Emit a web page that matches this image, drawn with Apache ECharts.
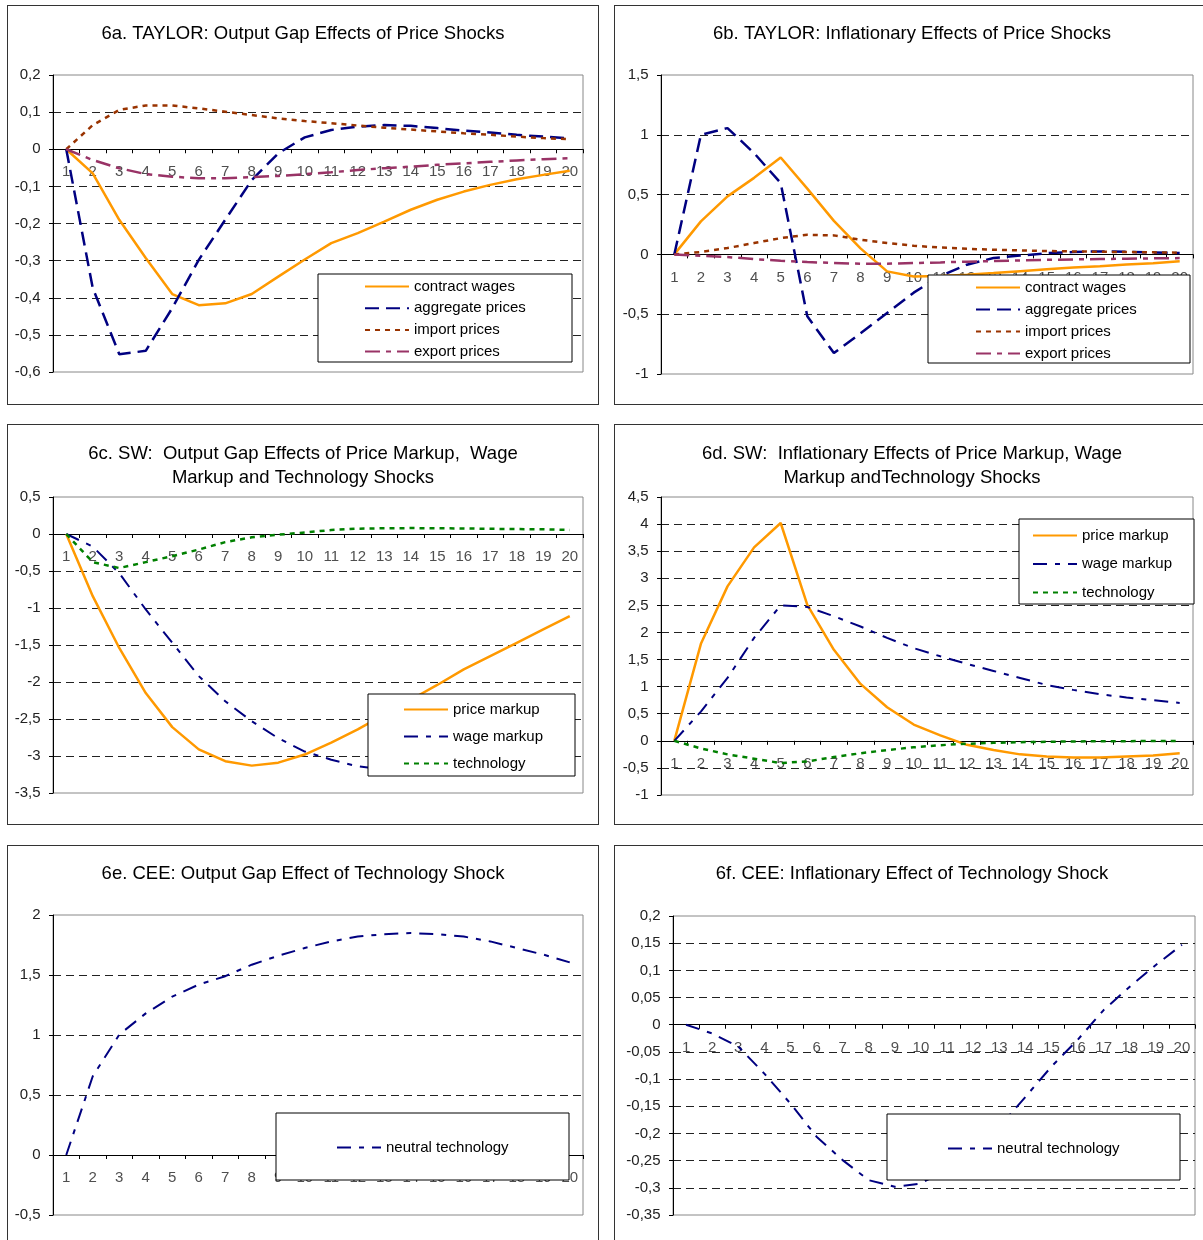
<!DOCTYPE html>
<html>
<head>
<meta charset="utf-8">
<script src="https://cdn.jsdelivr.net/npm/echarts@6/dist/echarts.min.js"></script>
<style>
html,body{margin:0;padding:0;background:#fff;overflow:hidden;width:1203px;height:1240px;}
.panel{position:absolute;border:1px solid #333;box-sizing:border-box;background:#fff;}
</style>
</head>
<body>
<div id="pa" class="panel" style="left:7px;top:5px;width:592px;height:400px;"></div>
<div id="pb" class="panel" style="left:614px;top:5px;width:597px;height:400px;"></div>
<div id="pc" class="panel" style="left:7px;top:424px;width:592px;height:401px;"></div>
<div id="pd" class="panel" style="left:614px;top:424px;width:597px;height:401px;"></div>
<div id="pe" class="panel" style="left:7px;top:845px;width:592px;height:410px;"></div>
<div id="pf" class="panel" style="left:614px;top:845px;width:597px;height:410px;"></div>
<script>
// ---- data ----
const periods = ['1','2','3','4','5','6','7','8','9','10','11','12','13','14','15','16','17','18','19','20'];

const taylorGapWages    = [0,-0.065,-0.19,-0.293,-0.39,-0.42,-0.415,-0.39,-0.343,-0.297,-0.253,-0.226,-0.195,-0.163,-0.136,-0.114,-0.096,-0.081,-0.069,-0.058];
const taylorGapAggregate= [0,-0.374,-0.552,-0.543,-0.428,-0.298,-0.19,-0.083,-0.011,0.032,0.052,0.061,0.065,0.063,0.057,0.05,0.045,0.039,0.034,0.029];
const taylorGapImport   = [0,0.065,0.106,0.118,0.118,0.11,0.101,0.092,0.083,0.076,0.07,0.064,0.058,0.053,0.048,0.043,0.039,0.034,0.03,0.027];
const taylorGapExport   = [0,-0.029,-0.051,-0.067,-0.074,-0.078,-0.078,-0.075,-0.072,-0.067,-0.062,-0.056,-0.051,-0.047,-0.042,-0.038,-0.034,-0.03,-0.027,-0.024];

const taylorInfWages    = [0,0.276,0.485,0.64,0.81,0.55,0.28,0.05,-0.142,-0.184,-0.18,-0.17,-0.156,-0.14,-0.125,-0.11,-0.1,-0.085,-0.075,-0.058];
const taylorInfAggregate= [0,1.0,1.056,0.847,0.596,-0.518,-0.825,-0.66,-0.49,-0.32,-0.18,-0.086,-0.03,-0.01,0.01,0.02,0.025,0.022,0.017,0.011];
const taylorInfImport   = [0,0.02,0.053,0.095,0.136,0.164,0.159,0.123,0.095,0.072,0.058,0.047,0.039,0.033,0.028,0.025,0.022,0.02,0.017,0.014];
const taylorInfExport   = [0,-0.011,-0.022,-0.039,-0.053,-0.064,-0.072,-0.078,-0.078,-0.072,-0.067,-0.061,-0.056,-0.05,-0.045,-0.042,-0.039,-0.036,-0.033,-0.031];

const swGapPrice = [0,-0.84,-1.54,-2.15,-2.61,-2.91,-3.07,-3.13,-3.09,-2.98,-2.82,-2.64,-2.44,-2.24,-2.04,-1.83,-1.65,-1.47,-1.29,-1.11];
const swGapWage  = [0,-0.17,-0.53,-1.02,-1.47,-1.92,-2.26,-2.53,-2.76,-2.94,-3.05,-3.14,-3.18,-3.2,-3.18,-3.13,-3.05,-2.95,-2.83,-2.7];
const swGapTech  = [0,-0.38,-0.46,-0.38,-0.3,-0.21,-0.11,-0.045,-0.01,0.02,0.054,0.072,0.077,0.08,0.077,0.075,0.07,0.067,0.063,0.054];

const swInfPrice = [0,1.79,2.85,3.57,4.02,2.51,1.68,1.05,0.62,0.3,0.1,-0.074,-0.17,-0.25,-0.29,-0.31,-0.31,-0.29,-0.27,-0.23];
const swInfWage  = [0,0.54,1.16,1.9,2.5,2.47,2.3,2.11,1.9,1.71,1.56,1.42,1.29,1.16,1.03,0.94,0.86,0.8,0.75,0.7];
const swInfTech  = [0,-0.14,-0.25,-0.33,-0.41,-0.38,-0.3,-0.23,-0.17,-0.12,-0.08,-0.055,-0.037,-0.025,-0.018,-0.012,-0.006,-0.006,-0.005,-0.005];

const ceeGapTech = [0,0.656,1.003,1.18,1.32,1.42,1.49,1.586,1.66,1.725,1.78,1.82,1.84,1.85,1.84,1.82,1.78,1.725,1.67,1.605];
const ceeInfTech = [0,-0.016,-0.04,-0.09,-0.145,-0.206,-0.249,-0.286,-0.298,-0.292,-0.265,-0.23,-0.188,-0.133,-0.077,-0.028,0.027,0.07,0.11,0.147];

// ---- styles ----
const FONT = '"Liberation Sans", Arial, sans-serif';
const ST = {
  'contract wages':   {color:'#FF9900', width:2.5, type:'solid'},
  'price markup':     {color:'#FF9900', width:2.5, type:'solid'},
  'aggregate prices': {color:'#000080', width:2.5, type:[14,7]},
  'import prices':    {color:'#993300', width:2.5, type:[5,5]},
  'export prices':    {color:'#993366', width:2.5, type:[15,6,5,6]},
  'wage markup':      {color:'#000080', width:2,   type:[14,8,5,8]},
  'technology':       {color:'#008000', width:2.5, type:[5,5]},
  'neutral technology':{color:'#000080', width:2,  type:[14,8,5,8]}
};

function fmt(v){
  const r = Math.round(v*1000)/1000;
  if (r === 0) return '0';
  return String(r).replace('.', ',');
}

function makePanel(id, cfg){
  const chart = echarts.init(document.getElementById(id), null, {renderer:'canvas'});
  const names = cfg.series.map(s => s[0]);
  const lines = cfg.series.map(s => ({
    name:s[0], type:'line', data:s[1], symbol:'none', smooth:false, z:(s[2]||2),
    lineStyle:{color:ST[s[0]].color, width:ST[s[0]].width, type:ST[s[0]].type},
    itemStyle:{color:ST[s[0]].color}
  }));
  // category labels sitting under the zero line
  lines.push({
    name:'period labels', type:'scatter', silent:true, z:1,
    data: periods.map(p => [p, 0]),
    symbol:'circle', symbolSize:1, itemStyle:{color:'rgba(0,0,0,0)'},
    label:{show:true, position:'bottom', distance:15, formatter:p => p.value[0],
      fontSize:15, color:'#222', fontFamily:FONT}
  });
  chart.setOption({
    animation:false,
    title:{text:cfg.title, left:cfg.titleLeft - 5, top:cfg.titleTop, textAlign: 'center',
      textStyle:{fontSize:18.5, fontWeight:'normal', color:'#000', fontFamily:FONT, lineHeight:24}},
    grid:{left:cfg.grid[0], top:cfg.grid[1], width:cfg.grid[2], height:cfg.grid[3],
      show:true, borderColor:'#888', borderWidth:1, backgroundColor:'transparent', containLabel:false},
    graphic:[{type:'rect', z:10, shape:{x:cfg.box[0], y:cfg.box[1], width:cfg.box[2], height:cfg.box[3]},
      style:{fill:'#fff', stroke:'#000', lineWidth:1}}],
    legend:{orient:'vertical', left:cfg.leg[0], top:cfg.leg[1] + 1, itemGap:cfg.leg[2], z:20,
      padding:0, itemWidth:44, itemHeight:14, itemTextGap:3, data:names,
      itemStyle:{opacity:0, borderWidth:0},
      textStyle:{fontSize:15, color:'#000', fontFamily:FONT, lineHeight:15}},
    xAxis:{type:'category', data:periods, boundaryGap:true,
      axisLine:{onZero:true, lineStyle:{color:'#000', width:1}},
      axisTick:{show:true, length:4, inside:false, alignWithLabel:false, lineStyle:{color:'#000'}},
      axisLabel:{show:false},
      splitLine:{show:false}},
    yAxis:{type:'value', min:cfg.y[0], max:cfg.y[1], interval:cfg.y[2],
      axisLine:{show:true, lineStyle:{color:'#000', width:1}},
      axisTick:{show:true, length:4, lineStyle:{color:'#000'}},
      axisLabel:{fontSize:15, color:'#222', fontFamily:FONT, margin:12.5, formatter:fmt},
      splitLine:{show:true, showMinLine:false, showMaxLine:false, lineStyle:{color:'#222', width:1, type:[8,5]}}},
    series: lines
  });
}

makePanel('pa', {
  title:'6a. TAYLOR: Output Gap Effects of Price Shocks', titleLeft:295, titleTop:11,
  grid:[45,69,530,297], y:[-0.6,0.2,0.1],
  box:[310,268,254,88], leg:[356,272,6.7],
  series:[['contract wages',taylorGapWages],['aggregate prices',taylorGapAggregate],['import prices',taylorGapImport],['export prices',taylorGapExport]]
});
makePanel('pb', {
  title:'6b. TAYLOR: Inflationary Effects of Price Shocks', titleLeft:297, titleTop:11,
  grid:[46,69,532,299], y:[-1,1.5,0.5],
  box:[313,269,262,88], leg:[360,273,7],
  series:[['contract wages',taylorInfWages],['aggregate prices',taylorInfAggregate],['import prices',taylorInfImport],['export prices',taylorInfExport]]
});
makePanel('pc', {
  title:'6c. SW:  Output Gap Effects of Price Markup,  Wage\nMarkup and Technology Shocks', titleLeft:295, titleTop:12,
  grid:[45,72,530,296], y:[-3.5,0.5,0.5],
  box:[360,269,207,82], leg:[395,276,12],
  series:[['price markup',swGapPrice],['wage markup',swGapWage],['technology',swGapTech,3]]
});
makePanel('pd', {
  title:'6d. SW:  Inflationary Effects of Price Markup, Wage\nMarkup andTechnology Shocks', titleLeft:297, titleTop:12,
  grid:[46,72,532,298], y:[-1,4.5,0.5],
  box:[404,94,175,85], leg:[417,102,13.5],
  series:[['price markup',swInfPrice],['wage markup',swInfWage],['technology',swInfTech,3]]
});
makePanel('pe', {
  title:'6e. CEE: Output Gap Effect of Technology Shock', titleLeft:295, titleTop:11,
  grid:[45,69,530,300], y:[-0.5,2,0.5],
  box:[268,267,293,67], leg:[328,293,10],
  series:[['neutral technology',ceeGapTech]]
});
makePanel('pf', {
  title:'6f. CEE: Inflationary Effect of Technology Shock', titleLeft:297, titleTop:11,
  grid:[58,70,522,299], y:[-0.35,0.2,0.05],
  box:[272,268,293,66], leg:[332,294,10],
  series:[['neutral technology',ceeInfTech]]
});
</script>
</body>
</html>
